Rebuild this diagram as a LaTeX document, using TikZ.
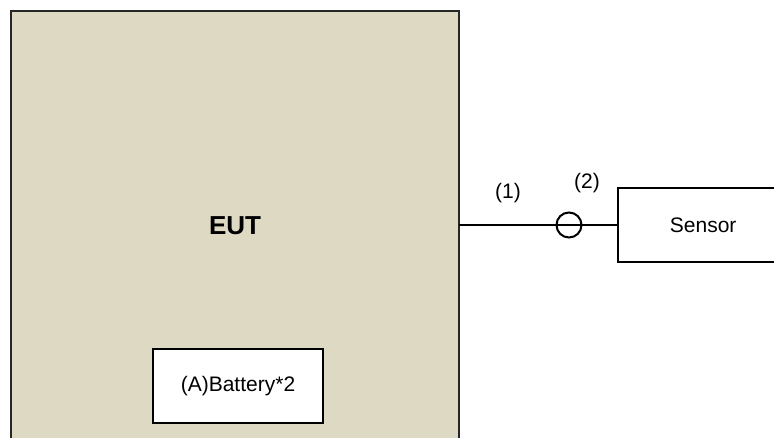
\documentclass[tikz,border=0pt]{standalone}
\usepackage{fontspec}
\setmainfont{Liberation Sans}
\usepackage{tikz}
\usetikzlibrary{positioning}
\definecolor{eutfill}{RGB}{221,217,195}

\begin{document}
\begin{tikzpicture}[x=1pt,y=1pt,
    lbl/.style={font=\fontsize{21}{25}\selectfont,inner sep=0pt},
    unitbox/.style={draw=black,line width=2.4pt,fill=white,minimum width=170pt,minimum height=74pt,lbl},
    wire/.style={line width=1.6pt}]
  \useasboundingbox (0,0) rectangle (774,-437);
  % EUT cabinet (runs past the lower edge)
  \draw[fill=eutfill,draw=black!85,line width=2.8pt] (11,-480) -- (11,-11) -- (459,-11) -- (459,-480);
  \node[font=\fontsize{26}{30}\selectfont\bfseries,inner sep=0pt] (eut) at (235,-226) {EUT};
  \node[unitbox] (batt) at (238,-386) {(A)Battery*2};
  \coordinate (eutport) at (459,-225);
  % sensor, open on the right
  \node[unitbox,anchor=west] (sensor) at (617,-225) {Sensor};
  \fill[white] (775,-180) rectangle (800,-270);
  % cable with ferrite
  \node[draw,circle,line width=2pt,minimum size=25pt,inner sep=0pt] (core) at (569,-225) {};
  \draw[wire] (eutport) -- (sensor.west);
  \node[lbl] (c1) at (508,-193) {(1)};
  \node[lbl] (c2) at (587,-183) {(2)};
\end{tikzpicture}
\end{document}
